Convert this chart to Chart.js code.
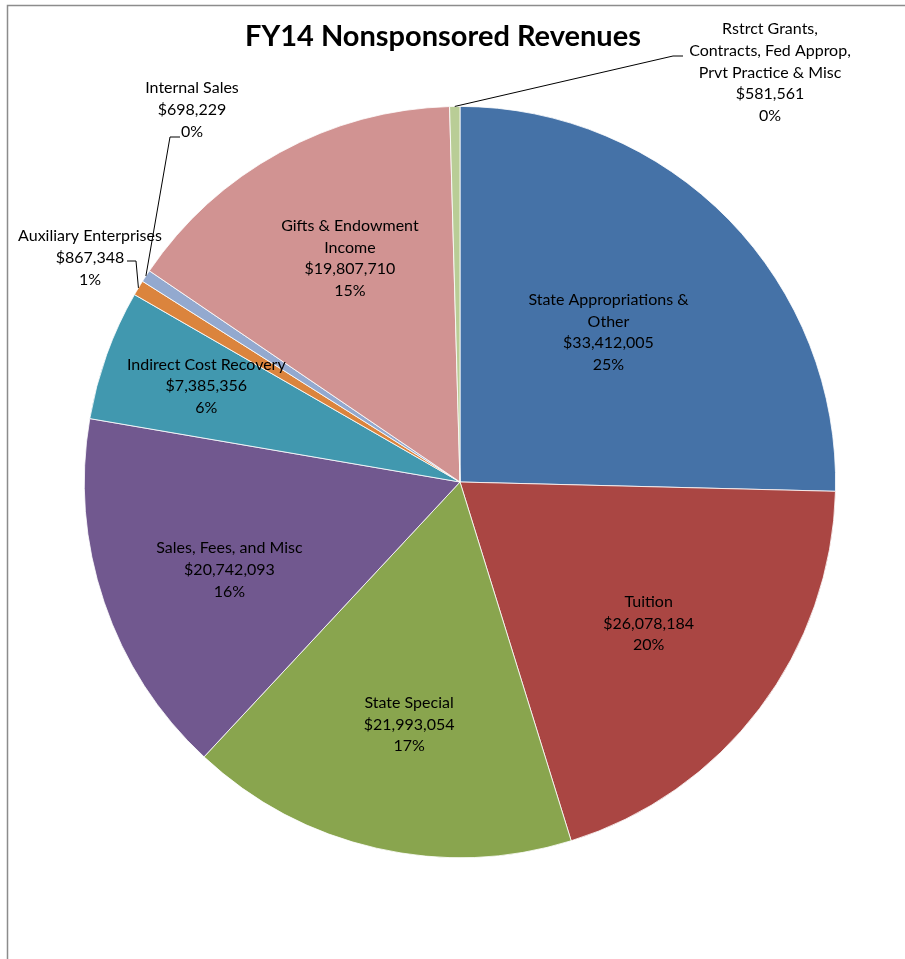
<!DOCTYPE html>
<html>
<head>
<meta charset="utf-8">
<script src="https://cdn.jsdelivr.net/npm/chart.js@4"></script>
<style>
  html, body { margin: 0; padding: 0; background: #fff; }
  #wrap { width: 905px; height: 959px; }
</style>
</head>
<body>
<div id="wrap"><canvas id="myChart"></canvas></div>
<script>
  "use strict";
  // data, clockwise from 12 o'clock
  const categories = [
    "State Appropriations & Other",
    "Tuition",
    "State Special",
    "Sales, Fees, and Misc",
    "Indirect Cost Recovery",
    "Auxiliary Enterprises",
    "Internal Sales",
    "Gifts & Endowment Income",
    "Rstrct Grants, Contracts, Fed Approp, Prvt Practice & Misc"
  ];
  const revenues = [33412005, 26078184, 21993054, 20742093, 7385356, 867348, 698229, 19807710, 581561];
  const percentLabels = ["25%", "20%", "17%", "16%", "6%", "1%", "0%", "15%", "0%"];
  const sliceColors = ["#4572A7", "#AA4643", "#89A54E", "#71588F", "#4198AF", "#DB843D", "#93A9CF", "#D19392", "#B9CD96"];

  // how the category name is broken into lines on the chart
  const nameLines = [
    ["State Appropriations &", "Other"],
    ["Tuition"],
    ["State Special"],
    ["Sales, Fees, and Misc"],
    ["Indirect Cost Recovery"],
    ["Auxiliary Enterprises"],
    ["Internal Sales"],
    ["Gifts & Endowment", "Income"],
    ["Rstrct Grants,", "Contracts, Fed Approp,", "Prvt Practice & Misc"]
  ];

  const FONT = "16px Lato, 'Open Sans', sans-serif";
  const LINE_H = 21.7;

  function fmtMoney(v) {
    return "$" + v.toLocaleString("en-US");
  }

  // label placement: inside slices by [radius fraction, angle in degrees],
  // outside ones with leader lines
  const inside = {
    0: [0.561, -45.2],
    1: [0.628, 36.9],
    2: [0.660, 101.85],
    3: [0.657, 159.1],
    4: [0.722, 200.7],
    7: [0.664, -116.2]
  };
  const outside = {
    5: { x: 90, y: 236, elbow: [[127, 261], [136, 261]] },
    6: { x: 192, y: 88, elbow: [[180, 137], [170, 137]] },
    8: { x: 770, y: 29, elbow: [[683, 56], [673, 56]] }
  };

  const labelPlugin = {
    id: "sliceLabels",
    beforeDraw(chart) {
      const c = chart.ctx;
      c.save();
      c.strokeStyle = "#8c8c8c";
      c.lineWidth = 1.5;
      c.beginPath();
      c.moveTo(7.5, 959);
      c.lineTo(7.5, 5.5);
      c.lineTo(905, 5.5);
      c.stroke();
      c.restore();
    },
    afterDraw(chart) {
      const c = chart.ctx;
      const arcs = chart.getDatasetMeta(0).data;
      c.save();
      // title
      c.fillStyle = "#000";
      c.textAlign = "center";
      c.textBaseline = "middle";
      c.font = "bold 29px Lato, 'Open Sans', sans-serif";
      c.fillText("FY14 Nonsponsored Revenues", 443, 37);

      c.font = FONT;
      arcs.forEach((arc, i) => {
        const p = arc.getProps(["x", "y", "startAngle", "endAngle", "outerRadius"], true);
        const mid = (p.startAngle + p.endAngle) / 2;
        const lines = nameLines[i].concat([fmtMoney(revenues[i]), percentLabels[i]]);
        let cx, top;
        if (inside[i] !== undefined) {
          const r = p.outerRadius * inside[i][0];
          const a = inside[i][1] * Math.PI / 180;
          cx = p.x + Math.cos(a) * r;
          const cy = p.y + Math.sin(a) * r;
          top = cy - (lines.length - 1) * LINE_H / 2;
        } else {
          const o = outside[i];
          cx = o.x;
          top = o.y;
          // leader line from slice edge
          c.strokeStyle = "#000";
          c.lineWidth = 1;
          c.beginPath();
          c.moveTo(o.elbow[0][0], o.elbow[0][1]);
          c.lineTo(o.elbow[1][0], o.elbow[1][1]);
          c.lineTo(p.x + Math.cos(mid) * p.outerRadius, p.y + Math.sin(mid) * p.outerRadius);
          c.stroke();
        }
        c.fillStyle = "#000";
        lines.forEach((t, k) => {
          c.fillText(t, cx, top + k * LINE_H);
        });
      });
      c.restore();
    }
  };

  const ctx = document.getElementById("myChart").getContext("2d");
  const chart = new Chart(ctx, {
    type: "pie",
    data: {
      labels: categories,
      datasets: [
        {
          data: revenues,
          backgroundColor: sliceColors,
          borderColor: "#ffffff",
          borderWidth: 0.8
        }
      ]
    },
    options: {
      responsive: true,
      maintainAspectRatio: false,
      animation: false,
      layout: {
        padding: { left: 84, right: 69, top: 106, bottom: 101 }
      },
      plugins: {
        legend: { display: false },
        tooltip: { enabled: false },
        title: { display: false }
      }
    },
    plugins: [labelPlugin]
  });
</script>
</body>
</html>
